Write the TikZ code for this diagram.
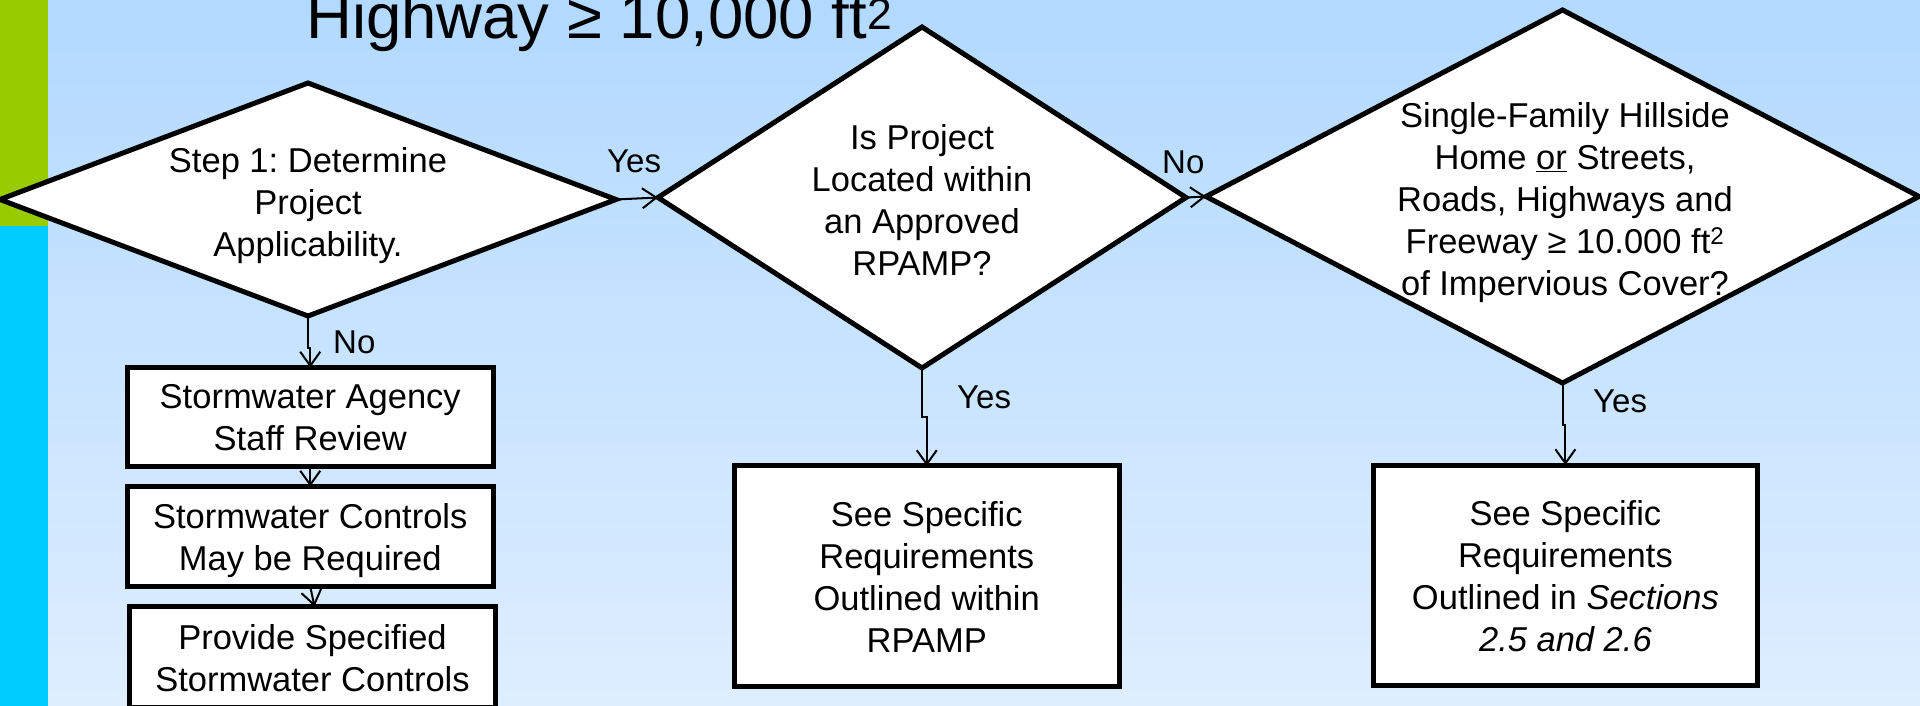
\documentclass[tikz,border=0pt]{standalone}
\usepackage{fontspec}
\setmainfont{Liberation Sans}
\usetikzlibrary{shapes.geometric,arrows.meta}
\definecolor{bgtop}{RGB}{178,217,255}
\definecolor{bgbot}{RGB}{222,238,255}
\definecolor{bargreen}{RGB}{153,204,0}
\definecolor{barcyan}{RGB}{0,204,255}
\tikzset{
  decision/.style={shape=diamond, draw=black, fill=white, line width=5pt, inner sep=0pt, outer sep=0pt},
  procbox/.style={rectangle, draw=black, fill=white, line width=5pt, inner sep=0pt, outer sep=0pt},
  dtext/.style={align=center, inner sep=0pt, font=\fontsize{34.5}{42}\selectfont\frenchspacing,
    execute at begin node={\strut}, execute at end node={\strut}},
  lbl/.style={anchor=base west, inner sep=0pt, font=\fontsize{33}{40}\selectfont},
  conn/.style={line width=2pt, -{Straight Barb[length=14pt,width=20pt]}}
}
\begin{document}
\begin{tikzpicture}[x=1pt,y=-1pt]
\useasboundingbox (0,0) rectangle (1920,706);
\clip (0,0) rectangle (1920,706);
% background
\shade[top color=bgtop, bottom color=bgbot] (0,0) rectangle (1920,706);
\fill[bargreen] (0,0) rectangle (48,226);
\fill[barcyan] (0,226) rectangle (48,706);
% title
\node[anchor=base west, inner sep=0pt, font=\fontsize{63.5}{70}\selectfont] (title) at (306,39) {Highway ≥ 10,000 ft\textsuperscript{2}};
% decisions
\node[decision, minimum width=616pt, minimum height=233pt] (d1) at (308,199.5) {};
\node[decision, minimum width=528pt, minimum height=341pt] (d2) at (922,197.5) {};
\node[decision, minimum width=713pt, minimum height=373pt] (d3) at (1562.5,196.5) {};
\node[dtext] (t1) at (308,208.5) {Step 1: Determine\\Project\\Applicability.};
\node[dtext] (t2) at (922,206.5) {Is Project\\Located within\\an Approved\\RPAMP?};
\node[dtext] (t3) at (1565,205.5) {Single-Family Hillside\\Home \underline{or} Streets,\\Roads, Highways and\\Freeway ≥ 10.000 ft\textsuperscript{2}\\of Impervious Cover?};
% boxes
\node[procbox, minimum width=365.5pt, minimum height=99.2pt] (ba) at (310.25,417.1) {};
\node[procbox, minimum width=365.5pt, minimum height=100pt] (bb) at (310.25,536.5) {};
\node[procbox, minimum width=366pt, minimum height=101pt] (bc) at (312.5,657) {};
\node[procbox, minimum width=385.5pt, minimum height=221pt] (b2) at (926.75,576.4) {};
\node[procbox, minimum width=384.2pt, minimum height=220.5pt] (b3) at (1565.4,575.25) {};
\node[dtext] (ta) at (310.25,424) {Stormwater Agency\\Staff Review};
\node[dtext] (tb) at (310.25,543.5) {Stormwater Controls\\May be Required};
\node[dtext] (tc) at (312.5,664) {Provide Specified\\Stormwater Controls};
\node[dtext] (tb2) at (926.75,583) {See Specific\\Requirements\\Outlined within\\RPAMP};
\node[dtext] (tb3) at (1565.4,582) {See Specific\\Requirements\\Outlined in \textit{Sections}\\\textit{2.5 and 2.6}};
% connectors
\draw[conn] (d1.east) -- (d2.west);
\draw[conn] (d2.east) -- (d3.west);
\draw[conn] (d1.south) |- ([yshift=20pt]ba.north) -- (ba.north);
\draw[conn] (ba.south) -- (bb.north);
\draw[conn] (bb.south) -- ([xshift=2pt]bc.north);
\draw[conn] (d2.south) |- ([yshift=49pt]b2.north) -- (b2.north);
\draw[conn] (d3.south) |- ([yshift=40pt]b3.north) -- (b3.north);
% labels
\node[lbl] (lyes1) at (607,172) {Yes};
\node[lbl] (lno2) at (1162,174) {No};
\node[lbl] (lno1) at (333,353) {No};
\node[lbl] (lyes2) at (957,408) {Yes};
\node[lbl] (lyes3) at (1593,412) {Yes};
\end{tikzpicture}
\end{document}
